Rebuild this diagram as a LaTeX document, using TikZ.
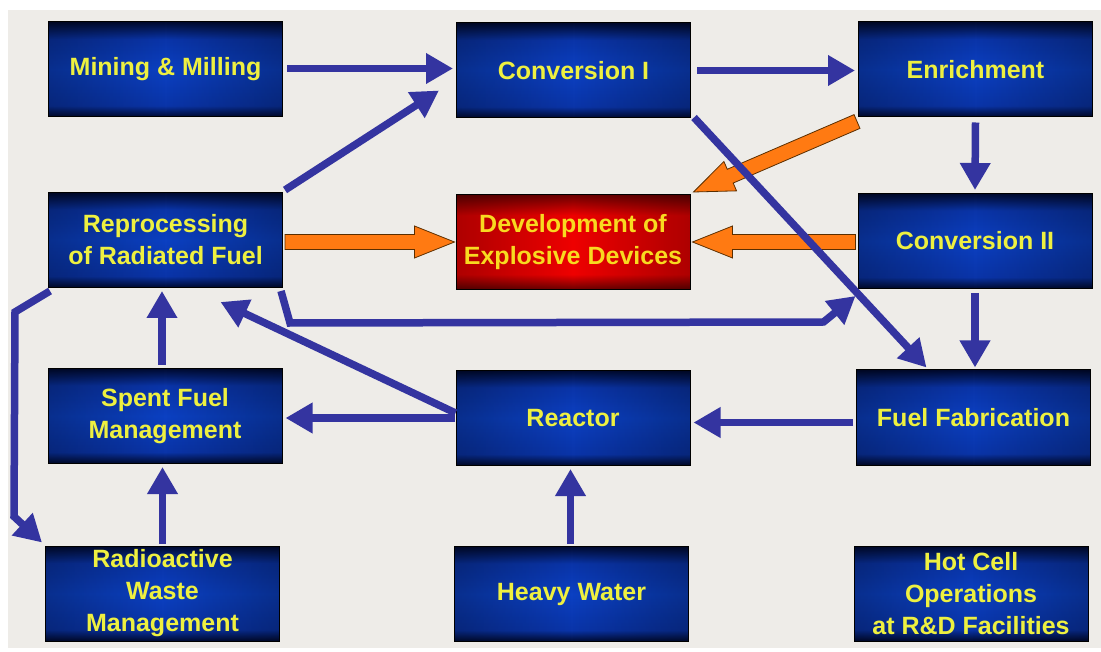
\documentclass[tikz,border=0pt]{standalone}
\usepackage{fontspec}
\setmainfont{Liberation Sans}
\usetikzlibrary{arrows.meta,calc,fadings}
\definecolor{bdark}{HTML}{000A30}
\definecolor{bmid}{HTML}{0A34A8}
\definecolor{bmid2}{HTML}{0B40C2}
\definecolor{rdark}{HTML}{6A0000}
\definecolor{rmid}{HTML}{EE0000}
\definecolor{txty}{HTML}{EEF040}
\definecolor{txtr}{HTML}{F8DA20}
\definecolor{flowblue}{HTML}{3434A0}
\definecolor{orfill}{HTML}{FF7A12}
\definecolor{ordraw}{HTML}{5A2E00}
\definecolor{panel}{HTML}{EEECE8}
\pgfdeclareverticalshading{bluebox}{100bp}{color(0bp)=(bdark); color(25bp)=(bdark); color(31bp)=(bmid); color(50bp)=(bmid2); color(66bp)=(bmid); color(75bp)=(bdark); color(100bp)=(bdark)}
\pgfdeclareverticalshading{redbox}{100bp}{color(0bp)=(rdark); color(25bp)=(rdark); color(33bp)=(rmid); color(64bp)=(rmid); color(75bp)=(rdark); color(100bp)=(rdark)}
\tikzfading[name=edgefade, left color=transparent!40, right color=transparent!40, middle color=transparent!100]
\newcommand\blockarrow[2]{%
  \coordinate (bh) at ($(#2)!40pt!(#1)$);
  \draw[orarrow] ($(#1)!7.5pt!90:(#2)$) -- ($(bh)!7.5pt!90:(#2)$) -- ($(bh)!16pt!90:(#2)$) -- (#2) -- ($(bh)!16pt!-90:(#2)$) -- ($(bh)!7.5pt!-90:(#2)$) -- ($(#1)!7.5pt!-90:(#2)$) -- cycle;
}
\tikzset{
  boxbase/.style={draw=black, line width=1pt, minimum width=234pt, minimum height=95pt, inner sep=2pt, align=center,
    font=\bfseries\fontsize{25}{32}\selectfont,
    postaction={fill=black, path fading=edgefade, fill opacity=0.45}},
  box/.style={boxbase, shading=bluebox, text=txty},
  redbx/.style={boxbase, shading=redbox, text=txtr},
  flow/.style={draw=flowblue, line width=7.5pt, line join=miter, -{Triangle[length=27pt,width=29pt]}},
  orarrow/.style={fill=orfill, draw=ordraw, line width=0.8pt, line join=miter}
}
\begin{document}
\begin{tikzpicture}[x=1pt,y=-1pt]
\useasboundingbox (0,0) rectangle (1101,652);
\fill[white] (0,0) rectangle (1101,652);
\fill[panel] (8,10) rectangle (1101,648);

\node[box] (mm) at (165.5,69.5) {Mining \& Milling};
\node[box] (c1) at (573.5,70.5) {Conversion I};
\node[box] (en) at (975.5,69.5) {Enrichment};
\node[box] (rep) at (165.5,240) {Reprocessing\\of Radiated Fuel};
\node[redbx] (dev) at (573,242) {Development of\\Explosive Devices};
\node[box] (c2) at (975,241) {Conversion II};
\node[box] (sf) at (165,416) {Spent Fuel\\Management};
\node[box] (re) at (573,418) {Reactor};
\node[box] (ff) at (973.5,417.5) {Fuel Fabrication};
\node[box] (rw) at (162.5,593.5) {Radioactive\\Waste\\Management};
\node[box] (hw) at (571.5,594) {Heavy Water};
\node[box] (hc) at (971,593.5) {Hot Cell\\Operations\\at R\&D Facilities};

% orange block arrows
\coordinate (o1s) at ($(rep.east)+(2,2)$);
\coordinate (o1e) at ($(dev.west)+(-1,0)$);
\blockarrow{o1s}{o1e}
\coordinate (o2s) at ($(c2.west)+(-2,1)$);
\coordinate (o2e) at ($(dev.east)+(2,0)$);
\blockarrow{o2s}{o2e}
\coordinate (o3s) at ($(en.south west)+(-1,4)$);
\coordinate (o3e) at ($(dev.north east)+(3,-2)$);
\blockarrow{o3s}{o3e}

% blue flows
\draw[flow] ($(mm.east)+(4,-1)$) -- ($(mm.east -| c1.west)+(-3,-1)$);
\draw[flow] ($(rep.north east)+(2,-2)$) -- ($(c1.west)+(-17,20)$);
\draw[flow] ($(c1.east)+(6,0)$) -- ($(c1.east -| en.west)+(-3,0)$);
\draw[flow] ($(en.south)+(0,5)$) -- ($(c2.north)+(0,-3)$);
\draw[flow] ($(c2.south)+(0,4)$) -- ($(c2.south |- ff.north)+(0,-2)$);
\draw[flow] ($(c1.south east)+(3,-1)$) -- ($(ff.north)+(-47,-2)$);
\draw[flow] ($(rep.south east)+(-2,3)$) -- ++(9,32) -- ($(c2.south west)+(-34,33)$) -- ($(c2.south west)+(-2,7)$);
\draw[flow] ($(ff.west)+(-3,5)$) -- ($(ff.west -| re.east)+(3,5)$);
\draw[flow] ($(re.west)+(-1,0)$) -- ($(re.west -| sf.east)+(3,0)$);
\draw[flow] ($(re.west)+(0,-5)$) -- ($(rep.south)+(55,14)$);
\draw[flow] ($(sf.north)+(-3,-3)$) -- ($(sf.north |- rep.south)+(-3,3)$);
\draw[flow] ($(rw.north)+(0,-2)$) -- ($(rw.north |- sf.south)+(0,3)$);
\draw[flow] ($(rep.south west)+(2,3)$) -- ++(-35,21) -- ($(rw.north west)+(-31,-29)$) -- ($(rw.north west)+(-3,-3)$);
\draw[flow] ($(hw.north)+(-1,-2)$) -- ($(hw.north |- re.south)+(-1,3)$);
\end{tikzpicture}
\end{document}
